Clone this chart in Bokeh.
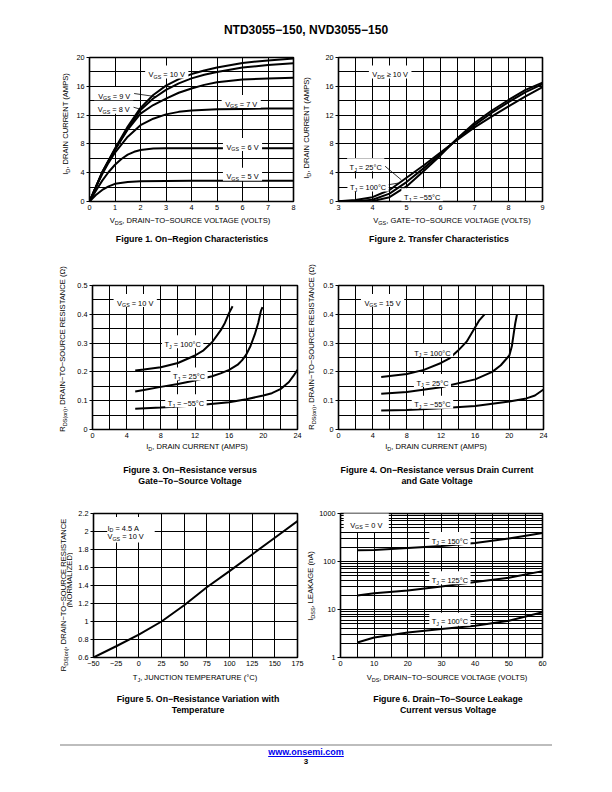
import math
from bokeh.plotting import figure
from bokeh.models import Range1d, FixedTicker, Label, Div, CustomJSTickFormatter
from bokeh.layouts import column, row
from bokeh.embed import file_html
from bokeh.resources import INLINE

FONT = "Liberation Sans"
TICK_SIZE = "7.3px"
AXL = 7.6      # axis label size (px)
ANN = 7.4      # annotation size (px)
CAP = 8.8      # caption size (px)

# ---------------- Figure 1 data: On-Region characteristics
f1_x_ticks = [0, 1, 2, 3, 4, 5, 6, 7, 8]
f1_y_ticks = [0, 4, 8, 12, 16, 20]
f1_x_grid = [0, 1, 2, 3, 4, 5, 6, 7, 8]
f1_y_grid = [0, 2, 4, 6, 8, 10, 12, 14, 16, 18, 20]
vgs5_x = [0, 0.25, 0.5, 0.75, 1, 1.5, 2, 3, 4, 5, 6, 7, 8]
vgs5_y = [0, 0.9, 1.6, 2.1, 2.45, 2.7, 2.8, 2.85, 2.87, 2.88, 2.88, 2.88, 2.88]
vgs6_x = [0, 0.25, 0.5, 0.75, 1, 1.25, 1.5, 1.75, 2, 2.5, 3, 4, 5, 6, 7, 8]
vgs6_y = [0, 1.5, 2.9, 4.1, 5.1, 5.9, 6.5, 6.9, 7.15, 7.35, 7.4, 7.4, 7.4, 7.4, 7.4, 7.4]
vgs7_x = [0, 0.25, 0.5, 0.75, 1, 1.5, 2, 2.5, 3, 3.5, 4, 5, 6, 7, 8]
vgs7_y = [0, 2.0, 3.8, 5.4, 6.8, 9.0, 10.6, 11.5, 12.1, 12.45, 12.65, 12.8, 12.85, 12.9, 12.9]
vgs8_x = [0, 0.5, 1, 1.5, 2, 2.5, 3, 3.5, 4, 4.5, 5, 6, 7, 8]
vgs8_y = [0, 4.0, 7.2, 10.0, 12.2, 13.4, 14.3, 15.1, 15.7, 16.2, 16.55, 16.95, 17.1, 17.2]
vgs9_x = [0, 0.5, 1, 1.5, 2, 2.5, 3, 3.5, 4, 4.5, 5, 6, 7, 8]
vgs9_y = [0, 4.05, 7.25, 10.1, 12.7, 14.3, 15.5, 16.4, 17.1, 17.6, 18.0, 18.6, 18.95, 19.2]
vgs10_x = [0, 0.5, 1, 1.5, 2, 2.5, 3, 3.5, 4, 4.5, 5, 6, 7, 8]
vgs10_y = [0, 4.1, 7.35, 10.4, 13.0, 14.8, 16.1, 17.0, 17.7, 18.2, 18.6, 19.25, 19.6, 19.85]
f1_lead9_x = [1.75, 2.62]
f1_lead9_y = [15.0, 14.55]
f1_lead8_x = [1.72, 2.06]
f1_lead8_y = [13.1, 12.75]

# ---------------- Figure 2 data: Transfer characteristics
f2_x_ticks = [3, 4, 5, 6, 7, 8, 9]
f2_y_ticks = [0, 4, 8, 12, 16, 20]
f2_x_grid = [3, 3.5, 4, 4.5, 5, 5.5, 6, 6.5, 7, 7.5, 8, 8.5, 9]
f2_y_grid = [0, 2, 4, 6, 8, 10, 12, 14, 16, 18, 20]
vgs_x = [3, 3.5, 4, 4.5, 5, 5.5, 6, 6.5, 7, 7.5, 8, 8.5, 9]
id_t100 = [0.05, 0.2, 0.6, 1.6, 3.3, 5.0, 6.8, 8.6, 10.3, 11.8, 13.2, 14.6, 15.9]
id_t25 = [0, 0.05, 0.25, 1.1, 2.7, 4.6, 6.6, 8.7, 10.6, 12.3, 13.8, 15.2, 16.3]
id_tm55 = [0, 0, 0.05, 0.6, 2.1, 4.2, 6.4, 8.8, 10.9, 12.6, 14.1, 15.5, 16.5]
f2_lead25_x = [4.37, 4.85]
f2_lead25_y = [4.9, 3.0]
f2_lead100_x = [4.37, 4.75]
f2_lead100_y = [2.25, 2.55]
f2_leadm55_x = [4.97, 4.88]
f2_leadm55_y = [1.25, 1.6]

# ---------------- Figure 3 data: RDS(on) vs ID, VGS = 10 V
f34_x_ticks = [0, 4, 8, 12, 16, 20, 24]
f34_y_ticks = [0, 0.1, 0.2, 0.3, 0.4, 0.5]
f34_x_grid = [0, 2, 4, 6, 8, 10, 12, 14, 16, 18, 20, 22, 24]
f34_y_grid = [0, 0.05, 0.1, 0.15, 0.2, 0.25, 0.3, 0.35, 0.4, 0.45, 0.5]
f3_t100_x = [5, 6, 8, 10, 12, 13, 14, 15, 15.5, 16, 16.4]
f3_t100_y = [0.205, 0.208, 0.216, 0.231, 0.257, 0.275, 0.303, 0.344, 0.37, 0.405, 0.428]
f3_t25_x = [5, 6, 8, 10, 12, 14, 15, 16, 17, 17.5, 18, 18.5, 19, 19.4, 19.7, 19.9]
f3_t25_y = [0.132, 0.137, 0.148, 0.158, 0.17, 0.185, 0.195, 0.207, 0.225, 0.24, 0.26, 0.29, 0.33, 0.37, 0.41, 0.425]
f3_tm55_x = [5, 8, 12, 16, 18, 20, 21, 22, 23, 23.5, 24]
f3_tm55_y = [0.072, 0.076, 0.083, 0.095, 0.105, 0.118, 0.126, 0.14, 0.165, 0.185, 0.207]

# ---------------- Figure 4 data: RDS(on) vs ID, VGS = 15 V
f4_t100_x = [5, 8, 10, 12, 13, 14, 15, 16, 16.5, 17.1]
f4_t100_y = [0.182, 0.193, 0.207, 0.231, 0.247, 0.274, 0.305, 0.355, 0.38, 0.40]
f4_t25_x = [5, 8, 12, 16, 18, 19, 20, 20.3, 20.5, 20.7, 20.9]
f4_t25_y = [0.124, 0.13, 0.147, 0.174, 0.2, 0.223, 0.257, 0.29, 0.33, 0.37, 0.40]
f4_tm55_x = [5, 8, 12, 16, 20, 22, 23, 24]
f4_tm55_y = [0.066, 0.068, 0.074, 0.082, 0.097, 0.108, 0.118, 0.139]

# ---------------- Figure 5 data: normalized RDS(on) vs TJ
f5_x_ticks = [-50, -25, 0, 25, 50, 75, 100, 125, 150, 175]
f5_y_ticks = [0.6, 0.8, 1.0, 1.2, 1.4, 1.6, 1.8, 2.0, 2.2]
tj = [-50, -25, 0, 25, 50, 75, 100, 125, 150, 175]
rds_norm = [0.6, 0.725, 0.855, 1.0, 1.18, 1.38, 1.56, 1.745, 1.93, 2.115]

# ---------------- Figure 6 data: IDSS leakage vs VDS
f6_x_ticks = [0, 10, 20, 30, 40, 50, 60]
f6_y_ticks = [1, 10, 100, 1000]
f6_x_grid = [0, 5, 10, 15, 20, 25, 30, 35, 40, 45, 50, 55, 60]
f6_y_grid = [1, 2, 3, 4, 5, 6, 7, 8, 9, 10, 20, 30, 40, 50, 60, 70, 80, 90,
             100, 200, 300, 400, 500, 600, 700, 800, 900, 1000]
vds6 = [5, 10, 20, 30, 40, 50, 60]
idss_150 = [171, 174, 191, 211, 244, 300, 394]
idss_125 = [19.5, 21.9, 24.8, 30.2, 37.2, 45.9, 63]
idss_100 = [2.06, 2.62, 3.33, 3.92, 4.6, 5.85, 8.8]

# ---------------- text helpers (in-plot annotations)
W = {' ': 278, '\u00a0': 278, ',': 278, '.': 278, '(': 333, ')': 333, '-': 333,
     '=': 584, '\u00b0': 400, '\u2265': 549, '\u2212': 584, '\u03a9': 768,
     'A': 667, 'C': 722, 'D': 722, 'G': 778, 'I': 278, 'J': 500, 'S': 667,
     'T': 611, 'V': 667}


def tw(s, size):
    return sum(W.get(c, 556) for c in s) * size / 1000.0


def rich(p, segs, x, y, align="center", size=ANN, part="both", pad=2):
    """In-plot label made of (text, is_subscript) pieces; white box behind."""
    segs = [(t.replace(" ", "\u00a0"), s) for t, s in segs]
    sub = size * 0.72
    shift = size * 0.3
    widths = [tw(t, sub if s else size) for t, s in segs]
    total = sum(widths)
    start = -total / 2 if align == "center" else 0.0
    cap = 0.716 * size
    if part in ("both", "bg"):
        plain = "".join(t for t, s in segs)
        p.add_layout(Label(x=x, y=y, x_offset=0, y_offset=0, text=plain, text_font=FONT,
                           text_font_size=f"{size}px", text_align=align,
                           text_baseline="middle", text_color="white",
                           background_fill_color="white", padding=pad))
    if part in ("both", "text"):
        pos = start
        for (t, s), wdt in zip(segs, widths):
            fs = sub if s else size
            p.add_layout(Label(x=x, y=y, x_offset=pos, y_offset=-cap / 2 - (shift if s else 0),
                               text=t, text_font=FONT, text_font_size=f"{fs}px",
                               text_align="left", text_baseline="alphabetic",
                               text_color="black"))
            pos += wdt


FMT = CustomJSTickFormatter(code="""
const v = Math.round(tick * 100) / 100;
return v < 0 ? "\\u2212" + String(Math.abs(v)) : String(v);
""")


def base(width, height, bl, br, bt, bb, xr, yr, xticks, yticks, xgrid, ygrid, ylog=False):
    p = figure(width=width, height=height, x_range=Range1d(*xr), y_range=Range1d(*yr),
               y_axis_type="log" if ylog else "linear", output_backend="svg",
               toolbar_location=None, min_border_left=bl, min_border_right=br,
               min_border_top=bt, min_border_bottom=bb)
    p.background_fill_color = "white"
    p.border_fill_color = "white"
    p.outline_line_color = "black"
    p.outline_line_width = 1.6
    p.xaxis.ticker = FixedTicker(ticks=xticks)
    p.yaxis.ticker = FixedTicker(ticks=yticks)
    p.xgrid.ticker = FixedTicker(ticks=xgrid)
    p.ygrid.ticker = FixedTicker(ticks=ygrid)
    for g in (p.xgrid, p.ygrid):
        g.grid_line_color = "black"
        g.grid_line_width = 1
        g.grid_line_alpha = 1
    for ax in p.axis:
        ax.axis_line_color = None
        ax.major_tick_in = 0
        ax.minor_tick_line_color = None
        ax.major_label_text_font = FONT
        ax.major_label_text_font_size = TICK_SIZE
        ax.major_label_text_color = "black"
        ax.major_tick_line_color = "black"
        ax.formatter = FMT
    p.xaxis.major_tick_out = 0
    p.xaxis.major_label_standoff = 3
    p.yaxis.major_tick_out = 3
    p.yaxis.major_label_standoff = 2
    return p


def curve(p, xs, ys):
    p.line(xs, ys, line_color="black", line_width=2)


def leader(p, xs, ys):
    p.line(xs, ys, line_color="black", line_width=0.8)


# ---------------- HTML text (axis titles with subscripts, captions)
def sub(t):
    return f'<span style="font-size:72%;position:relative;top:0.32em;">{t}</span>'


def placed(cx, cy, html, size, rotate=False, bold=False):
    tr = "translate(-50%,-50%) rotate(-90deg)" if rotate else "translate(-50%,-50%)"
    wt = "bold" if bold else "normal"
    return (f'<div style="position:absolute;left:{cx}px;top:{cy}px;width:0;height:0;">'
            f'<div style="position:absolute;left:0;top:0;white-space:nowrap;font-size:{size}px;'
            f'line-height:1;font-weight:{wt};color:#000;transform:{tr};">{html}</div></div>')


def textdiv(width, height, items):
    inner = "".join(items)
    return Div(text=(f'<div style="position:relative;width:{width}px;height:{height}px;'
                     f'font-family:\'Liberation Sans\',Arial,sans-serif;">{inner}</div>'),
               width=width, height=height, margin=0)


M = "\u2212"

# ================= Figure 1  (row 1 split: 72 | 224 | 20 | 296)
p1 = base(224, 170, 17, 3, 12, 14, (0, 8), (0, 20), f1_x_ticks, f1_y_ticks, f1_x_grid, f1_y_grid)
for xs, ys in [(vgs5_x, vgs5_y), (vgs6_x, vgs6_y), (vgs7_x, vgs7_y),
               (vgs8_x, vgs8_y), (vgs9_x, vgs9_y), (vgs10_x, vgs10_y)]:
    curve(p1, xs, ys)
leader(p1, f1_lead9_x, f1_lead9_y)
leader(p1, f1_lead8_x, f1_lead8_y)
rich(p1, [("V", 0), ("GS", 1), (" = 10 V", 0)], 3.03, 18.0)
rich(p1, [("V", 0), ("GS", 1), (" = 9 V", 0)], 0.97, 15.0)
rich(p1, [("V", 0), ("GS", 1), (" = 8 V", 0)], 0.95, 13.1)
rich(p1, [("V", 0), ("GS", 1), (" = 7 V", 0)], 5.95, 13.9)
rich(p1, [("V", 0), ("GS", 1), (" = 6 V", 0)], 6.0, 7.9)
rich(p1, [("V", 0), ("GS", 1), (" = 5 V", 0)], 6.0, 3.8)
b1 = textdiv(224, 40, [
    placed(118, 6, f"V{sub('DS')}, DRAIN{M}TO{M}SOURCE VOLTAGE (VOLTS)", AXL),
    placed(120, 24, f"Figure 1. On{M}Region Characteristics", CAP, bold=True)])

# ================= Figure 2
p2 = base(296, 170, 22, 70, 12, 14, (3, 9), (0, 20), f2_x_ticks, f2_y_ticks, f2_x_grid, f2_y_grid)
for ys in (id_t100, id_t25, id_tm55):
    curve(p2, vgs_x, ys)
leader(p2, f2_lead25_x, f2_lead25_y)
leader(p2, f2_lead100_x, f2_lead100_y)
leader(p2, f2_leadm55_x, f2_leadm55_y)
rich(p2, [("V", 0), ("DS", 1), (" \u2265 10 V", 0)], 4.52, 18.0)
rich(p2, [("T", 0), ("J", 1), (" = 25\u00b0C", 0)], 3.8, 5.1)
rich(p2, [("T", 0), ("J", 1), (" = 100\u00b0C", 0)], 3.87, 2.3)
rich(p2, [("T", 0), ("J", 1), (" = \u221255\u00b0C", 0)], 5.46, 0.95)
b2 = textdiv(296, 40, [
    placed(136, 6, f"V{sub('GS')}, GATE{M}TO{M}SOURCE VOLTAGE (VOLTS)", AXL),
    placed(123, 24, "Figure 2. Transfer Characteristics", CAP, bold=True)])

y1 = textdiv(72, 210, [placed(65.5, 79, f"I{sub('D')}, DRAIN CURRENT (AMPS)", AXL, rotate=True)])
y2 = textdiv(20, 210, [placed(10.8, 83, f"I{sub('D')}, DRAIN CURRENT (AMPS)", AXL, rotate=True)])

# ================= Figure 3
p3 = base(232, 188, 20, 7, 30, 14, (0, 24), (0, 0.5), f34_x_ticks, f34_y_ticks, f34_x_grid, f34_y_grid)
curve(p3, f3_t100_x, f3_t100_y)
curve(p3, f3_t25_x, f3_t25_y)
curve(p3, f3_tm55_x, f3_tm55_y)
rich(p3, [("V", 0), ("GS", 1), (" = 10 V", 0)], 5.0, 0.448)
rich(p3, [("T", 0), ("J", 1), (" = 100\u00b0C", 0)], 10.56, 0.305)
rich(p3, [("T", 0), ("J", 1), (" = 25\u00b0C", 0)], 11.3, 0.193)
rich(p3, [("T", 0), ("J", 1), (" = \u221255\u00b0C", 0)], 10.94, 0.1)
b3 = textdiv(232, 49, [
    placed(125, 4, f"I{sub('D')}, DRAIN CURRENT (AMPS)", AXL),
    placed(118, 27, f"Figure 3. On{M}Resistance versus", CAP, bold=True),
    placed(118, 38, f"Gate{M}To{M}Source Voltage", CAP, bold=True)])

# ================= Figure 4
p4 = base(296, 188, 22, 69, 30, 14, (0, 24), (0, 0.5), f34_x_ticks, f34_y_ticks, f34_x_grid, f34_y_grid)
curve(p4, f4_t100_x, f4_t100_y)
curve(p4, f4_t25_x, f4_t25_y)
curve(p4, f4_tm55_x, f4_tm55_y)
rich(p4, [("V", 0), ("GS", 1), (" = 15 V", 0)], 5.16, 0.448)
rich(p4, [("T", 0), ("J", 1), (" = 100\u00b0C", 0)], 11.0, 0.274)
rich(p4, [("T", 0), ("J", 1), (" = 25\u00b0C", 0)], 11.0, 0.17)
rich(p4, [("T", 0), ("J", 1), (" = \u221255\u00b0C", 0)], 11.0, 0.095)
b4 = textdiv(296, 49, [
    placed(120, 4, f"I{sub('D')}, DRAIN CURRENT (AMPS)", AXL),
    placed(121, 27, f"Figure 4. On{M}Resistance versus Drain Current", CAP, bold=True),
    placed(121, 38, "and Gate Voltage", CAP, bold=True)])

rlab = f"R{sub('DS(on)')}, DRAIN{M}TO{M}SOURCE RESISTANCE (\u03a9)"
y3 = textdiv(72, 237, [placed(63.3, 94, rlab, AXL, rotate=True)])
y4 = textdiv(12, 237, [placed(8.0, 92, rlab, AXL, rotate=True)])

# ================= Figure 5
p5 = base(232, 179, 21, 7, 21, 14, (-50, 175), (0.6, 2.2), f5_x_ticks, f5_y_ticks, f5_x_ticks, f5_y_ticks)
curve(p5, tj, rds_norm)
rich(p5, [("I", 0), ("D", 1), (" = 4.5 A", 0)], -34.6, 2.066, align="left", part="bg", pad=4)
rich(p5, [("V", 0), ("GS", 1), (" = 10 V", 0)], -34.6, 1.973, align="left", part="bg", pad=4)
rich(p5, [("I", 0), ("D", 1), (" = 4.5 A", 0)], -34.6, 2.066, align="left", part="text")
rich(p5, [("V", 0), ("GS", 1), (" = 10 V", 0)], -34.6, 1.973, align="left", part="text")
b5 = textdiv(232, 49, [
    placed(123, 7, f"T{sub('J')}, JUNCTION TEMPERATURE (\u00b0C)", AXL),
    placed(126, 28, f"Figure 5. On{M}Resistance Variation with", CAP, bold=True),
    placed(126, 39, "Temperature", CAP, bold=True)])

# ================= Figure 6
p6 = base(296, 179, 22, 70, 21, 14, (0, 60), (1, 1000), f6_x_ticks, f6_y_ticks, f6_x_grid, f6_y_grid, ylog=True)
curve(p6, vds6, idss_150)
curve(p6, vds6, idss_125)
curve(p6, vds6, idss_100)
rich(p6, [("V", 0), ("GS", 1), (" = 0 V", 0)], 7.65, 650, pad=5)
rich(p6, [("T", 0), ("J", 1), (" = 150\u00b0C", 0)], 32.5, 300)
rich(p6, [("T", 0), ("J", 1), (" = 125\u00b0C", 0)], 32.5, 45.8)
rich(p6, [("T", 0), ("J", 1), (" = 100\u00b0C", 0)], 32.5, 6.3)
b6 = textdiv(296, 49, [
    placed(131, 7, f"V{sub('DS')}, DRAIN{M}TO{M}SOURCE VOLTAGE (VOLTS)", AXL),
    placed(132, 28, f"Figure 6. Drain{M}To{M}Source Leakage", CAP, bold=True),
    placed(132, 39, "Current versus Voltage", CAP, bold=True)])

y5 = textdiv(72, 228, [
    placed(64.3, 103, f"R{sub('DS(on)')}, DRAIN{M}TO{M}SOURCE RESISTANCE", AXL, rotate=True),
    placed(70.3, 88, "(NORMALIZED)", AXL, rotate=True)])
y6 = textdiv(12, 228, [placed(6.5, 94, f"I{sub('DSS')}, LEAKAGE (nA)", AXL, rotate=True)])

# ================= page header / footer
header = Div(text=(
    '<div style="position:relative;width:612px;height:45px;'
    'font-family:\'Liberation Sans\',Arial,sans-serif;">'
    '<div style="position:absolute;left:0;top:23px;width:612px;text-align:center;'
    'font-weight:bold;font-size:12px;line-height:14px;color:#000;">'
    'NTD3055\u2212150, NVD3055\u2212150</div></div>'),
    width=612, height=45, margin=0)

footer = Div(text=(
    '<div style="position:relative;width:612px;height:72px;'
    'font-family:\'Liberation Sans\',Arial,sans-serif;">'
    '<div style="position:absolute;left:60px;top:24px;width:492px;height:0;'
    'border-top:2px solid #bdbdbd;"></div>'
    '<div style="position:absolute;left:0;top:27px;width:612px;text-align:center;'
    'font-weight:bold;font-size:9px;line-height:10px;color:#0000ee;'
    'text-decoration:underline;">www.onsemi.com</div>'
    '<div style="position:absolute;left:0;top:37px;width:612px;text-align:center;'
    'font-weight:bold;font-size:8px;line-height:10px;color:#000;">3</div></div>'),
    width=612, height=72, margin=0)

row1 = row(y1, column(p1, b1), y2, column(p2, b2))
row2 = row(y3, column(p3, b3), y4, column(p4, b4))
row3 = row(y5, column(p5, b5), y6, column(p6, b6))
layout = column(header, row1, row2, row3, footer)

open("out.html", "w").write(file_html(layout, INLINE, title="NTD3055-150, NVD3055-150"))
